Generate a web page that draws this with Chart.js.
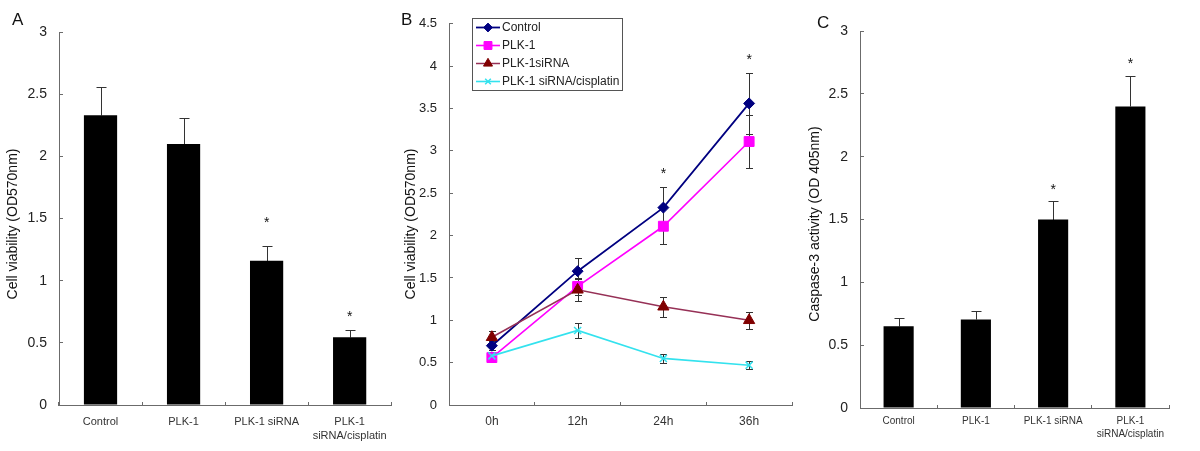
<!DOCTYPE html>
<html>
<head>
<meta charset="utf-8">
<script src="https://cdn.jsdelivr.net/npm/chart.js@4.4.1/dist/chart.umd.min.js"></script>
<style>
  body { margin: 0; background: #fff; width: 1200px; height: 451px; overflow: hidden; position: relative; }
  canvas { position: absolute; top: 0; }
</style>
</head>
<body>
<canvas id="chartA" width="400" height="451" style="left:0"></canvas>
<canvas id="chartB" width="400" height="451" style="left:400px"></canvas>
<canvas id="chartC" width="400" height="451" style="left:800px"></canvas>
<script>
// panel A / C categories
const groups = ['Control', 'PLK-1', 'PLK-1 siRNA', ['PLK-1', 'siRNA/cisplatin']];

// panel A: cell viability
const viability = [2.33, 2.10, 1.16, 0.545];
const viabilityErr = [0.23, 0.21, 0.12, 0.055];
const viabilityStars = [null, null, 1.50, 0.74];

// panel B: time course
const hours = ['0h', '12h', '24h', '36h'];
const seriesNames = ['Control', 'PLK-1', 'PLK-1siRNA', 'PLK-1 siRNA/cisplatin'];
const controlOD = [0.70, 1.58, 2.33, 3.56];
const controlErr = [0.05, 0.15, 0.24, 0.36];
const plkOD = [0.56, 1.40, 2.11, 3.11];
const plkErr = [0.05, 0.10, 0.21, 0.31];
const sirnaOD = [0.80, 1.36, 1.16, 1.00];
const sirnaErr = [0.07, 0.13, 0.12, 0.10];
const cisOD = [0.58, 0.88, 0.55, 0.47];
const cisErr = [0.04, 0.09, 0.05, 0.045];
const timeStars = [null, null, 2.78, 4.12];

// panel C: caspase-3 activity
const caspase = [0.65, 0.705, 1.50, 2.40];
const caspaseErr = [0.065, 0.065, 0.15, 0.245];
const caspaseStars = [null, null, 1.77, 2.77];

const FONT = '"Liberation Sans", Arial, sans-serif';
const AXIS = '#6b6b6b';
Chart.defaults.font.family = FONT;
Chart.defaults.color = '#222';
Chart.defaults.animation = false;

// error bars, asterisks, panel letter and rotated axis title
const panelDeco = {
  id: 'panelDeco',
  beforeDatasetsDraw(chart, args, o) {
    const ctx = chart.ctx, y = chart.scales.y;
    ctx.save();
    ctx.strokeStyle = '#333';
    ctx.lineWidth = 1;
    (o.errors || []).forEach((errs, di) => {
      const meta = chart.getDatasetMeta(di);
      meta.data.forEach((el, i) => {
        const v = chart.data.datasets[di].data[i], e = errs[i];
        const x = Math.round(el.x) + 0.5;
        const top = Math.round(y.getPixelForValue(v + e)) + 0.5;
        const bot = Math.round(y.getPixelForValue(o.both ? v - e : v)) + 0.5;
        ctx.beginPath();
        ctx.moveTo(x, top); ctx.lineTo(x, bot);
        ctx.moveTo(x - o.cap, top); ctx.lineTo(x + o.cap, top);
        if (o.both) { ctx.moveTo(x - o.cap, bot); ctx.lineTo(x + o.cap, bot); }
        ctx.stroke();
      });
    });
    ctx.restore();
  },
  afterDraw(chart, args, o) {
    const ctx = chart.ctx;
    const meta = chart.getDatasetMeta(0);
    ctx.save();
    ctx.fillStyle = '#111';
    ctx.font = '14px ' + FONT;
    ctx.textAlign = 'center';
    ctx.textBaseline = 'alphabetic';
    (o.stars || []).forEach((s, i) => {
      if (s == null) return;
      ctx.fillText('*', meta.data[i].x, chart.scales.y.getPixelForValue(s) + 8);
    });
    ctx.textAlign = 'left';
    ctx.font = '17px ' + FONT;
    ctx.fillText(o.letter, o.letterX, o.letterY);
    // axis title
    ctx.font = '14px ' + FONT;
    ctx.textAlign = 'center';
    ctx.textBaseline = 'middle';
    ctx.translate(o.titleX, o.titleY);
    ctx.rotate(-Math.PI / 2);
    ctx.fillText(o.title, 0, 0);
    ctx.restore();
  }
};

// boxed legend for panel B
const boxLegend = {
  id: 'boxLegend',
  afterDraw(chart, args, o) {
    if (!o.show) return;
    const ctx = chart.ctx;
    ctx.save();
    ctx.strokeStyle = '#555';
    ctx.lineWidth = 1;
    ctx.strokeRect(o.x + 0.5, o.y + 0.5, o.w, o.h);
    ctx.font = '12px ' + FONT;
    ctx.textBaseline = 'middle';
    ctx.textAlign = 'left';
    chart.data.datasets.forEach((ds, i) => {
      const ry = o.y + 9.5 + i * 18;
      ctx.strokeStyle = ds.borderColor;
      ctx.lineWidth = ds.borderWidth;
      ctx.beginPath();
      ctx.moveTo(o.x + 4, ry); ctx.lineTo(o.x + 28, ry);
      ctx.stroke();
      ctx.fillStyle = ds.pointBackgroundColor;
      ctx.strokeStyle = ds.pointBorderColor;
      ctx.lineWidth = ds.pointBorderWidth;
      if (Chart.helpers && Chart.helpers.drawPoint) {
        Chart.helpers.drawPoint(ctx, {
          pointStyle: ds.pointStyle, rotation: 0,
          radius: ds.pointRadius * 0.8, borderWidth: ds.pointBorderWidth
        }, o.x + 16, ry);
      }
      ctx.fillStyle = '#222';
      ctx.fillText(ds.label, o.x + 30, ry + 0.5);
    });
    ctx.restore();
  }
};

function axes(box, yMax, yFont, xFont, xPad) {
  return {
    x: {
      offset: true,
      grid: { display: true, offset: true, drawOnChartArea: false, tickLength: -3, color: AXIS },
      border: { display: true, color: AXIS },
      ticks: { font: { size: xFont, lineHeight: 1.25 }, padding: xPad, color: '#333', maxRotation: 0, autoSkip: false },
      afterFit: s => { s.height = 451 - box.bottom; }
    },
    y: {
      min: 0, max: yMax,
      grid: { display: true, drawOnChartArea: false, tickLength: -4, color: AXIS },
      border: { display: true, color: AXIS },
      ticks: {
        stepSize: 0.5, font: { size: yFont }, padding: 16, color: '#222',
        callback: v => String(Math.round(v * 10) / 10)
      },
      afterFit: s => { s.width = box.left; }
    }
  };
}

function layout(box) {
  return { padding: { top: box.top, right: 400 - box.right, left: 0, bottom: 0 } };
}

// Panel A
const boxA = { left: 59, top: 32, right: 397, bottom: 405 };
new Chart(document.getElementById('chartA'), {
  type: 'bar',
  data: {
    labels: groups,
    datasets: [{ data: viability, backgroundColor: '#000', categoryPercentage: 1, barPercentage: 0.4 }]
  },
  options: {
    responsive: false,
    layout: layout(boxA),
    scales: axes(boxA, 3, 14, 11, 13),
    plugins: {
      legend: { display: false }, tooltip: { enabled: false },
      panelDeco: { errors: [viabilityErr], both: false, cap: 5, stars: viabilityStars,
        letter: 'A', letterX: 12, letterY: 25,
        title: 'Cell viability (OD570nm)', titleX: 13.5, titleY: 224 }
    }
  },
  plugins: [panelDeco]
});

// Panel B
const boxB = { left: 49, top: 13, right: 399, bottom: 405 };
const lineDs = (label, data, line, mark, style, r, bw, order) => ({
  label, data, order,
  borderColor: line, borderWidth: bw, tension: 0,
  pointStyle: style, pointRadius: r,
  pointBackgroundColor: mark, pointBorderColor: mark, pointBorderWidth: style === 'crossRot' ? 1.5 : 1,
  clip: false
});
new Chart(document.getElementById('chartB'), {
  type: 'line',
  data: {
    labels: hours,
    datasets: [
      lineDs(seriesNames[0], controlOD, '#000080', '#000080', 'rectRot', 5.5, 1.8, 4),
      lineDs(seriesNames[1], plkOD, '#ff00ff', '#ff00ff', 'rect', 7, 1.6, 3),
      lineDs(seriesNames[2], sirnaOD, '#963056', '#800000', 'triangle', 6.5, 1.5, 2),
      lineDs(seriesNames[3], cisOD, '#33e2ee', '#33e2ee', 'crossRot', 5, 1.6, 1)
    ]
  },
  options: {
    responsive: false,
    layout: layout(boxB),
    scales: axes(boxB, 4.5, 13, 12, 12),
    plugins: {
      legend: { display: false }, tooltip: { enabled: false },
      panelDeco: { errors: [controlErr, plkErr, sirnaErr, cisErr], both: true, cap: 3.5, stars: timeStars,
        letter: 'B', letterX: 1, letterY: 25,
        title: 'Cell viability (OD570nm)', titleX: 11, titleY: 224 },
      boxLegend: { show: true, x: 72, y: 18, w: 150, h: 72 }
    }
  },
  plugins: [panelDeco, boxLegend]
});

// Panel C
const boxC = { left: 60, top: 31, right: 369, bottom: 408 };
new Chart(document.getElementById('chartC'), {
  type: 'bar',
  data: {
    labels: groups,
    datasets: [{ data: caspase, backgroundColor: '#000', categoryPercentage: 1, barPercentage: 0.39 }]
  },
  options: {
    responsive: false,
    layout: layout(boxC),
    scales: axes(boxC, 3, 14, 10, 10),
    plugins: {
      legend: { display: false }, tooltip: { enabled: false },
      panelDeco: { errors: [caspaseErr], both: false, cap: 5, stars: caspaseStars,
        letter: 'C', letterX: 17, letterY: 28,
        title: 'Caspase-3 activity (OD 405nm)', titleX: 15, titleY: 224 }
    }
  },
  plugins: [panelDeco]
});
</script>
</body>
</html>
